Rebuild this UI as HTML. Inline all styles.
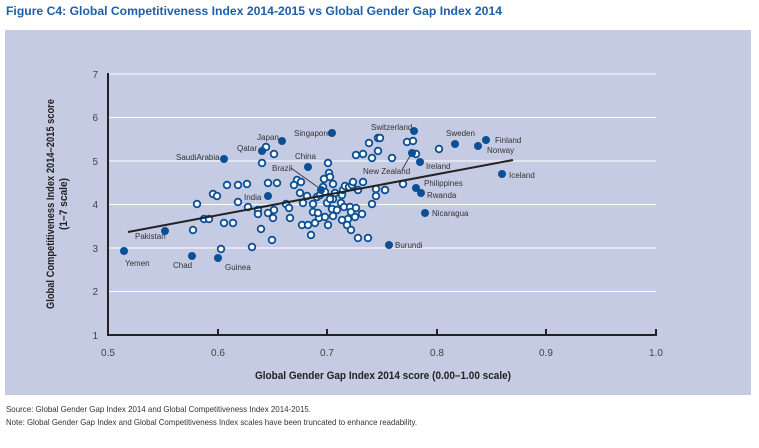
<!DOCTYPE html>
<html><head><meta charset="utf-8"><style>
body{margin:0;background:#fff;width:759px;height:443px;overflow:hidden;font-family:"Liberation Sans",sans-serif}
</style></head><body>
<svg width="759" height="443" viewBox="0 0 759 443" xmlns="http://www.w3.org/2000/svg" font-family="Liberation Sans, sans-serif">
<text x="6" y="15" font-weight="bold" font-size="12" fill="#1f5ea8" textLength="496" lengthAdjust="spacingAndGlyphs">Figure C4: Global Competitiveness Index 2014-2015 vs Global Gender Gap Index 2014</text>
<rect x="5" y="30" width="746" height="365" fill="#c5cbe3"/>
<g stroke="#fff" stroke-width="1">
<line x1="109" x2="656" y1="74" y2="74"/><line x1="109" x2="656" y1="117.5" y2="117.5"/><line x1="109" x2="656" y1="161" y2="161"/><line x1="109" x2="656" y1="204.5" y2="204.5"/><line x1="109" x2="656" y1="248" y2="248"/><line x1="109" x2="656" y1="291.5" y2="291.5"/>
</g>
<g stroke="#222" stroke-width="2" fill="none">
<polyline points="108,73 108,335 656,335 656,329"/>
<line x1="218" y1="335" x2="218" y2="329"/><line x1="327" y1="335" x2="327" y2="329"/><line x1="437" y1="335" x2="437" y2="329"/><line x1="546" y1="335" x2="546" y2="329"/>
</g>
<g font-size="10" fill="#444" text-anchor="end">
<text x="98" y="78">7</text><text x="98" y="121">6</text><text x="98" y="165">5</text><text x="98" y="208">4</text><text x="98" y="252">3</text><text x="98" y="295">2</text><text x="98" y="339">1</text>
</g>
<g font-size="10" fill="#444" text-anchor="middle">
<text x="108" y="356">0.5</text><text x="218" y="356">0.6</text><text x="327" y="356">0.7</text><text x="437" y="356">0.8</text><text x="546" y="356">0.9</text><text x="656" y="356">1.0</text>
</g>
<text x="255" y="379" font-size="11" font-weight="bold" fill="#222" textLength="256" lengthAdjust="spacingAndGlyphs">Global Gender Gap Index 2014 score (0.00–1.00 scale)</text>
<g transform="translate(54,204) rotate(-90)" font-size="11" font-weight="bold" fill="#222" text-anchor="middle">
<text x="0" y="0" textLength="210" lengthAdjust="spacingAndGlyphs">Global Competitiveness Index 2014–2015 score</text><text x="0" y="13" textLength="52" lengthAdjust="spacingAndGlyphs">(1–7 scale)</text></g>
<g fill="#fff" stroke="#0b4f96" stroke-width="1.8">
<circle cx="266" cy="147" r="3.3"/><circle cx="274" cy="154" r="3.3"/><circle cx="262" cy="163" r="3.3"/><circle cx="328" cy="163" r="3.3"/><circle cx="329" cy="173" r="3.3"/><circle cx="330" cy="177" r="3.3"/><circle cx="324" cy="179" r="3.3"/><circle cx="297" cy="180" r="3.3"/><circle cx="301" cy="182" r="3.3"/><circle cx="294" cy="185" r="3.3"/><circle cx="300" cy="193" r="3.3"/><circle cx="268" cy="183" r="3.3"/><circle cx="277" cy="183" r="3.3"/><circle cx="247" cy="184" r="3.3"/><circle cx="238" cy="185" r="3.3"/><circle cx="227" cy="185" r="3.3"/><circle cx="213" cy="194" r="3.3"/><circle cx="217" cy="196" r="3.3"/><circle cx="197" cy="204" r="3.3"/><circle cx="238" cy="202" r="3.3"/><circle cx="248" cy="207" r="3.3"/><circle cx="258" cy="210" r="3.3"/><circle cx="258" cy="214" r="3.3"/><circle cx="268" cy="213" r="3.3"/><circle cx="273" cy="218" r="3.3"/><circle cx="274" cy="210" r="3.3"/><circle cx="286" cy="204" r="3.3"/><circle cx="289" cy="208" r="3.3"/><circle cx="290" cy="218" r="3.3"/><circle cx="204" cy="219" r="3.3"/><circle cx="209" cy="219" r="3.3"/><circle cx="224" cy="223" r="3.3"/><circle cx="233" cy="223" r="3.3"/><circle cx="193" cy="230" r="3.3"/><circle cx="221" cy="249" r="3.3"/><circle cx="252" cy="247" r="3.3"/><circle cx="272" cy="240" r="3.3"/><circle cx="261" cy="229" r="3.3"/><circle cx="302" cy="225" r="3.3"/><circle cx="308" cy="225" r="3.3"/><circle cx="311" cy="235" r="3.3"/><circle cx="315" cy="223" r="3.3"/><circle cx="319" cy="218" r="3.3"/><circle cx="313" cy="212" r="3.3"/><circle cx="318" cy="213" r="3.3"/><circle cx="325" cy="217" r="3.3"/><circle cx="328" cy="225" r="3.3"/><circle cx="333" cy="216" r="3.3"/><circle cx="332" cy="209" r="3.3"/><circle cx="333" cy="199" r="3.3"/><circle cx="303" cy="203" r="3.3"/><circle cx="307" cy="196" r="3.3"/><circle cx="313" cy="204" r="3.3"/><circle cx="317" cy="197" r="3.3"/><circle cx="320" cy="195" r="3.3"/><circle cx="323" cy="187" r="3.3"/><circle cx="325" cy="192" r="3.3"/><circle cx="333" cy="184" r="3.3"/><circle cx="337" cy="210" r="3.3"/><circle cx="341" cy="203" r="3.3"/><circle cx="342" cy="195" r="3.3"/><circle cx="343" cy="190" r="3.3"/><circle cx="345" cy="186" r="3.3"/><circle cx="349" cy="187" r="3.3"/><circle cx="352" cy="185" r="3.3"/><circle cx="353" cy="182" r="3.3"/><circle cx="358" cy="190" r="3.3"/><circle cx="363" cy="182" r="3.3"/><circle cx="344" cy="207" r="3.3"/><circle cx="348" cy="219" r="3.3"/><circle cx="350" cy="207" r="3.3"/><circle cx="351" cy="212" r="3.3"/><circle cx="355" cy="217" r="3.3"/><circle cx="356" cy="208" r="3.3"/><circle cx="362" cy="214" r="3.3"/><circle cx="342" cy="220" r="3.3"/><circle cx="347" cy="225" r="3.3"/><circle cx="351" cy="230" r="3.3"/><circle cx="358" cy="238" r="3.3"/><circle cx="368" cy="238" r="3.3"/><circle cx="372" cy="204" r="3.3"/><circle cx="376" cy="196" r="3.3"/><circle cx="376" cy="189" r="3.3"/><circle cx="385" cy="190" r="3.3"/><circle cx="356" cy="155" r="3.3"/><circle cx="363" cy="154" r="3.3"/><circle cx="369" cy="143" r="3.3"/><circle cx="378" cy="138" r="3.3"/><circle cx="378" cy="151" r="3.3"/><circle cx="372" cy="158" r="3.3"/><circle cx="392" cy="158" r="3.3"/><circle cx="403" cy="184" r="3.3"/><circle cx="407" cy="142" r="3.3"/><circle cx="413" cy="141" r="3.3"/><circle cx="416" cy="154" r="3.3"/><circle cx="327" cy="203" r="3.3"/><circle cx="330" cy="199" r="3.3"/><circle cx="335" cy="193" r="3.3"/><circle cx="439" cy="149" r="3.3"/><circle cx="380" cy="138" r="3.3"/><circle cx="385" cy="190" r="3.3"/>
</g>
<line x1="128" y1="232" x2="513" y2="160" stroke="#222" stroke-width="2"/>
<g stroke="#333" stroke-width="0.8"><line x1="291" y1="168" x2="319" y2="188"/><line x1="402" y1="170" x2="411" y2="154"/></g>
<g fill="#0b4f96">
<circle cx="124" cy="251" r="4"/><circle cx="165" cy="231" r="4"/><circle cx="192" cy="256" r="4"/><circle cx="218" cy="258" r="4"/><circle cx="224" cy="159" r="4"/><circle cx="262" cy="151" r="4"/><circle cx="282" cy="141" r="4"/><circle cx="332" cy="133" r="4"/><circle cx="308" cy="167" r="4"/><circle cx="268" cy="196" r="4"/><circle cx="321" cy="190" r="4"/><circle cx="389" cy="245" r="4"/><circle cx="414" cy="131" r="4"/><circle cx="412" cy="153" r="4"/><circle cx="455" cy="144" r="4"/><circle cx="486" cy="140" r="4"/><circle cx="478" cy="146" r="4"/><circle cx="420" cy="162" r="4"/><circle cx="502" cy="174" r="4"/><circle cx="416" cy="188" r="4"/><circle cx="421" cy="193" r="4"/><circle cx="425" cy="213" r="4"/>
</g>
<g font-size="8" fill="#333">
<text x="125" y="266">Yemen</text><text x="135" y="239">Pakistan</text><text x="173" y="268">Chad</text><text x="225" y="270">Guinea</text>
<text x="176" y="160">SaudiArabia</text><text x="237" y="151">Qatar</text><text x="257" y="140">Japan</text><text x="294" y="136">Singapore</text>
<text x="295" y="159">China</text><text x="272" y="171">Brazil</text><text x="244" y="200">India</text><text x="395" y="248">Burundi</text>
<text x="371" y="130">Switzerland</text><text x="363" y="174">New Zealand</text><text x="446" y="136">Sweden</text><text x="495" y="143">Finland</text>
<text x="487" y="153">Norway</text><text x="426" y="169">Ireland</text><text x="509" y="178">Iceland</text><text x="424" y="186">Philippines</text>
<text x="427" y="198">Rwanda</text><text x="432" y="216">Nicaragua</text>
</g>
<g font-size="8.5" fill="#333">
<text x="6" y="412" textLength="305" lengthAdjust="spacingAndGlyphs">Source: Global Gender Gap Index 2014 and Global Competitiveness Index 2014-2015.</text>
<text x="6" y="425" textLength="411" lengthAdjust="spacingAndGlyphs">Note: Global Gender Gap Index and Global Competitiveness Index scales have been truncated to enhance readability.</text>
</g>
</svg>
</body></html>
